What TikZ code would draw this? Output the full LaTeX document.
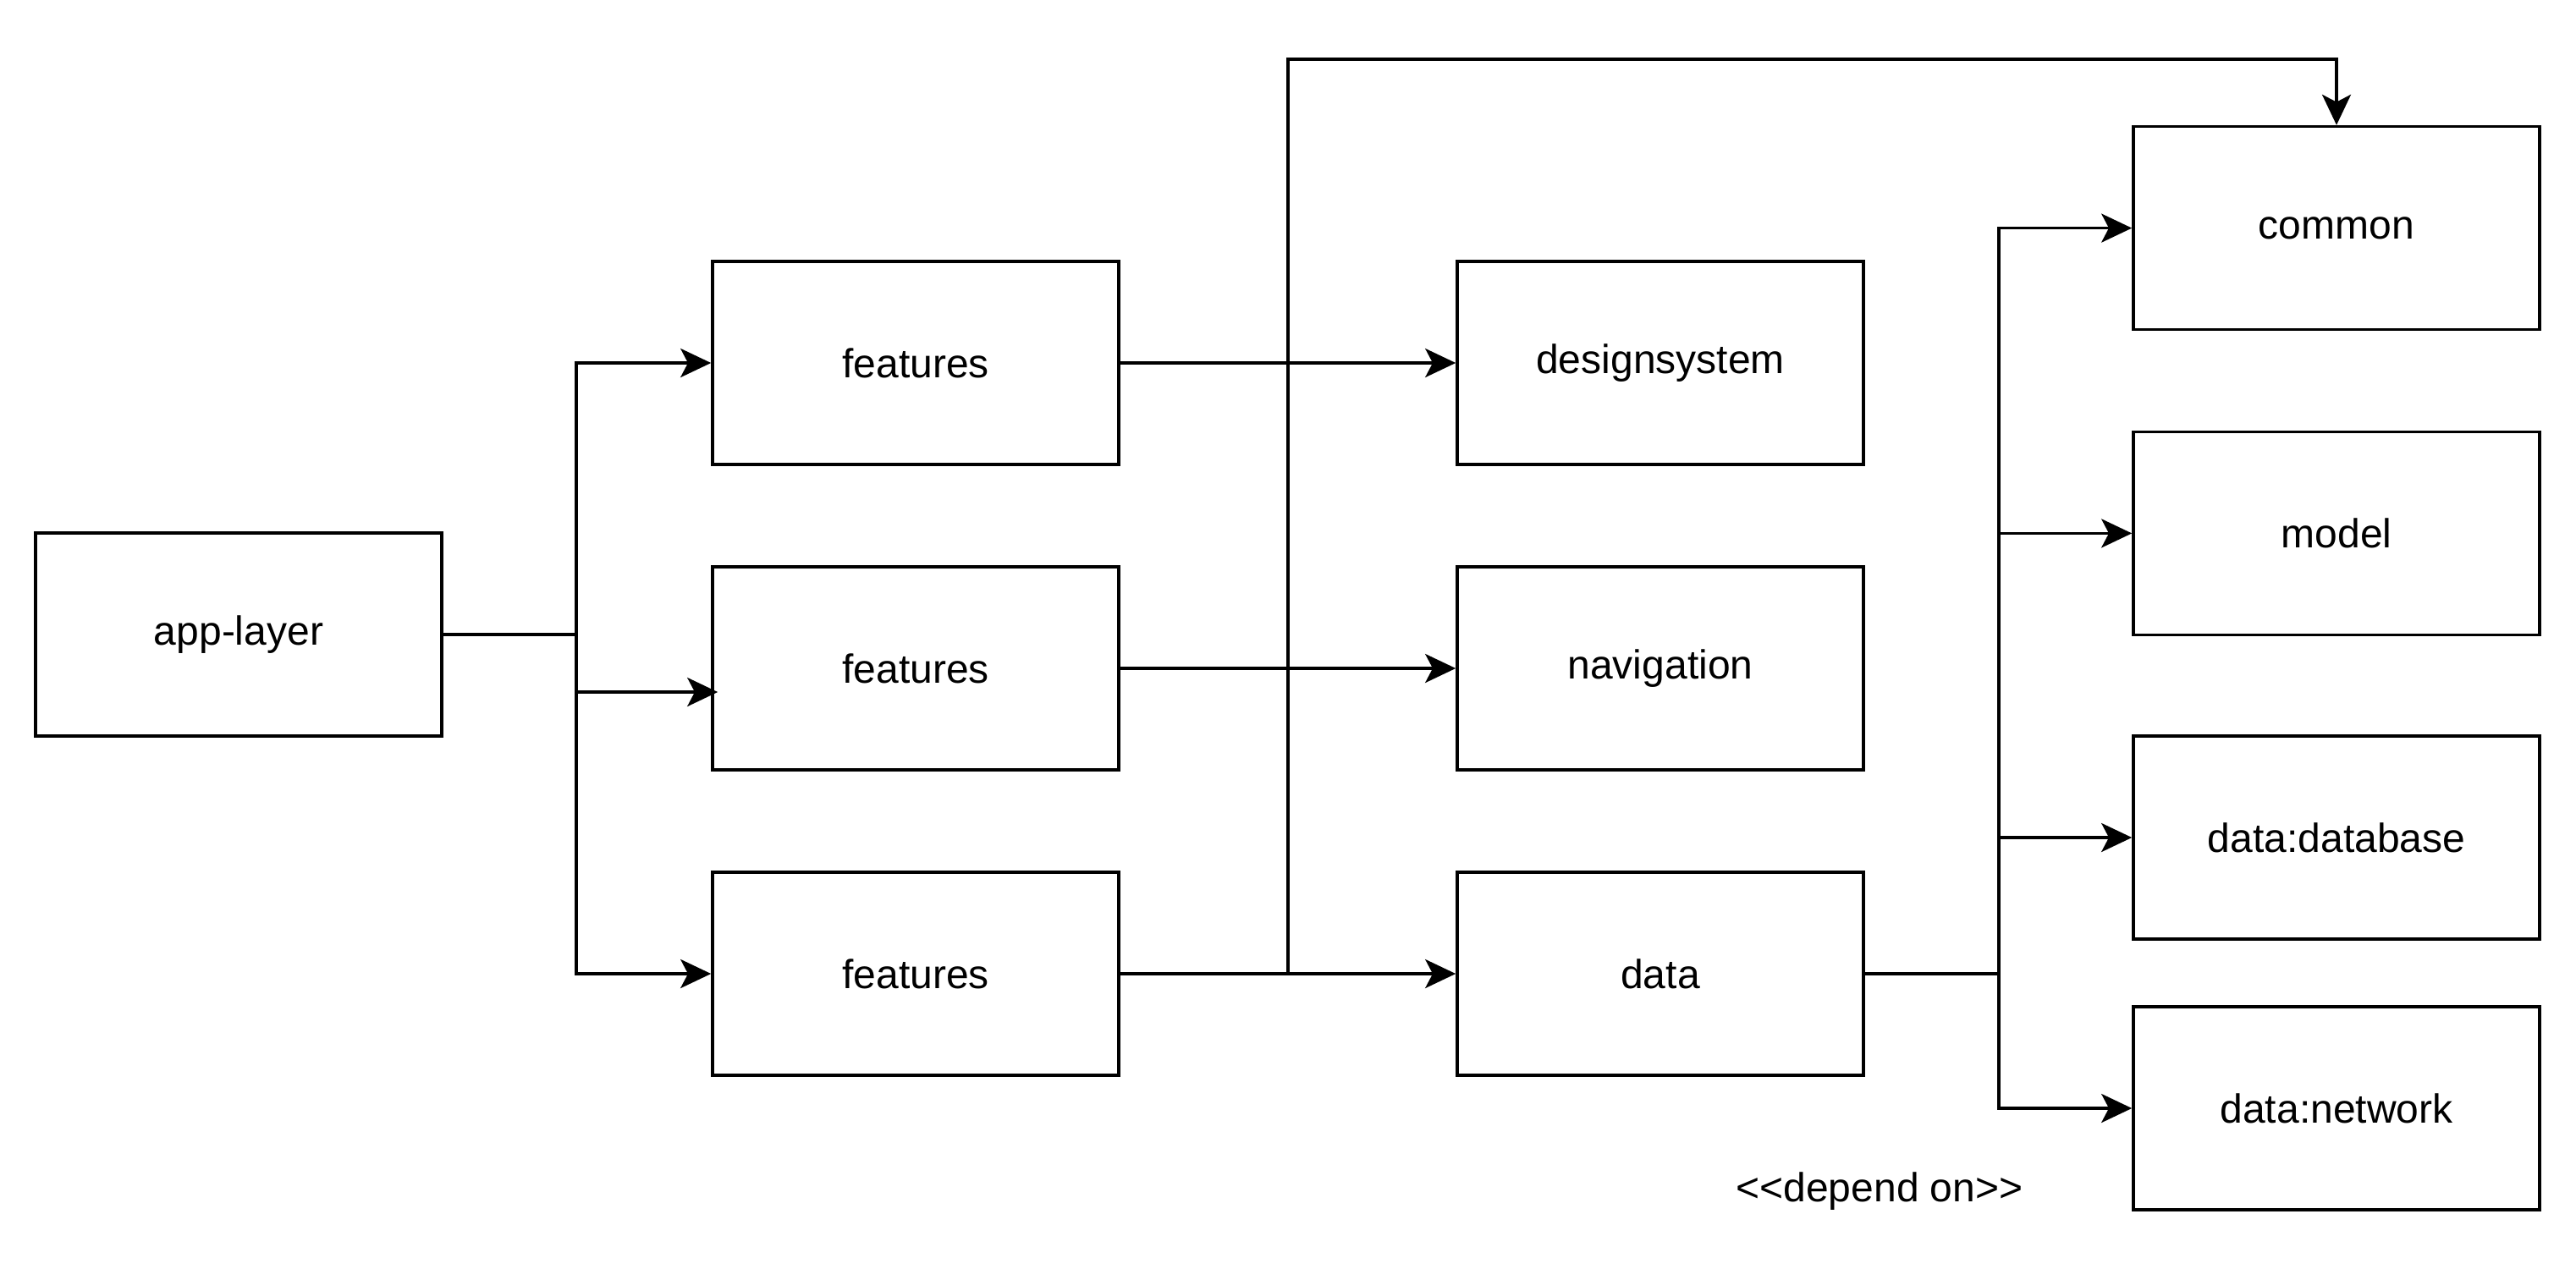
\documentclass[tikz,border=0pt]{standalone}
\usepackage{fontspec}
\setmainfont{Liberation Sans}
\usetikzlibrary{arrows.meta}
\begin{document}
\begin{tikzpicture}[x=1pt,y=-1pt,line width=0.9pt,
    >={Stealth[length=9pt,width=8.5pt,inset=2.2pt]},
    box/.style={draw,minimum width=120pt,minimum height=60pt,inner sep=0pt,font=\fontsize{12}{14}\selectfont}]
        \useasboundingbox (0,0) rectangle (761,378);
        \def\ca{70.5} \def\cb{270.5} \def\cc{490.5} \def\cd{690.25}

        \node[box] (app) at (\ca,187.5) {app-layer};
        \node[box] (fa) at (\cb,107.25) {features};
        \node[box] (fb) at (\cb,197.5) {features};
        \node[box] (fc) at (\cb,287.75) {features};
        \node[box] (ds) at (\cc,107.25) {designsystem};
        \node[box] (nav) at (\cc,197.5) {navigation};
        \node[box] (data) at (\cc,287.75) {data};
        \node[box] (common) at (\cd,67.4) {common};
        \node[box] (model) at (\cd,157.6) {model};
        \node[box] (db) at (\cd,247.5) {data:database};
        \node[box] (net) at (\cd,327.5) {data:network};
        \node[font=\fontsize{12}{14}\selectfont] (dep) at (555.25,352) {\mbox{<}\mbox{<}depend on\mbox{>}\mbox{>}};

        \draw (170.25,187.5) coordinate (lbus);
        \draw (380.5,17.5) coordinate (mtop);
        \draw (590.5,287.75) coordinate (rbus);

        \draw (app.east) -- (lbus);
        \draw[->] (lbus) |- (fa.west);
        \draw[->] (lbus) |- ([xshift=2pt,yshift=-7pt]fb.west);
        \draw[->] (lbus) |- (fc.west);

        \draw[->] (fa.east) -- (ds.west);
        \draw[->] (fb.east) -- (nav.west);
        \draw[->] (fc.east) -- (data.west);
        \draw[->] (mtop |- fc.east) -- (mtop) -| (common.north);

        \draw (data.east) -- (rbus);
        \draw[->] (rbus) |- (common.west);
        \draw[->] (rbus) |- (model.west);
        \draw[->] (rbus) |- (db.west);
        \draw[->] (rbus) |- (net.west);
      \end{tikzpicture}
\end{document}
